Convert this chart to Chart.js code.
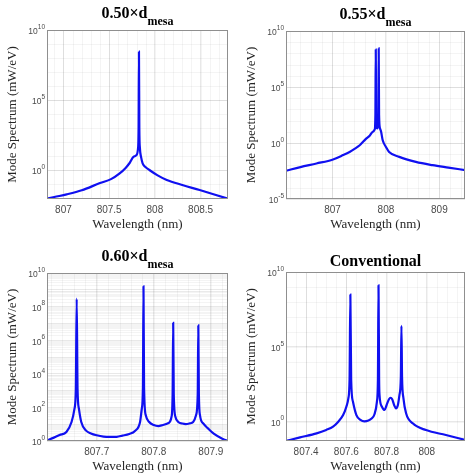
<!DOCTYPE html>
<html>
<head>
<meta charset="utf-8">
<script src="https://cdn.jsdelivr.net/npm/chart.js@4.4.0/dist/chart.umd.min.js"></script>
<style>
  body { margin: 0; background: #fff; }
  #wrap { position: relative; width: 466px; height: 475px; }
  .cell { position: absolute; }
</style>
</head>
<body>
<div id="wrap">
  <div class="cell" style="left:0;top:0"><canvas id="cA" width="233" height="237"></canvas></div>
  <div class="cell" style="left:233px;top:0"><canvas id="cB" width="233" height="237"></canvas></div>
  <div class="cell" style="left:0;top:237px"><canvas id="cC" width="233" height="238"></canvas></div>
  <div class="cell" style="left:233px;top:237px"><canvas id="cD" width="233" height="238"></canvas></div>
</div>
<script>
'use strict';

// Wavelengths (nm) and log10 of the mode spectrum (mW/eV)
var wlA  = [806.82, 806.90, 807.035, 807.20, 807.40, 807.52, 807.615, 807.68, 807.724, 807.768, 807.80,
            807.815, 807.822, 807.826, 807.830, 807.836, 807.85, 807.866, 807.90, 807.94, 808.03, 808.13,
            808.30, 808.49, 808.65, 808.80];
var logA = [-2.05, -1.93, -1.74, -1.45, -0.93, -0.65, -0.24, 0.15, 0.50, 0.95, 1.07,
            1.5, 3.0, 8.45, 3.0, 1.6, 0.9, 0.48, 0.2, 0.0, -0.38, -0.71,
            -1.07, -1.43, -1.75, -2.05];

var wlB  = [806.13, 806.40, 806.70, 807.01, 807.20, 807.32, 807.42, 807.51, 807.63, 807.70, 807.75,
            807.79, 807.803, 807.81, 807.817, 807.837, 807.858, 807.865, 807.872, 807.89, 807.91, 807.94,
            808.00, 808.06, 808.25, 808.56, 808.87, 809.17, 809.48];
var logB = [-2.48, -2.15, -1.83, -1.47, -1.08, -0.80, -0.50, -0.20, 0.39, 0.68, 0.98,
            1.2, 2.5, 8.35, 2.5, 1.3, 2.5, 8.44, 2.5, 1.3, 1.0, 0.24,
            -0.35, -0.80, -1.24, -1.69, -1.98, -2.2, -2.42];

var wlC  = [807.613, 807.625, 807.635, 807.647, 807.656, 807.661, 807.6635, 807.665, 807.6665, 807.669,
            807.673, 807.681, 807.690, 807.700, 807.712, 807.723, 807.735, 807.745, 807.757, 807.767,
            807.776, 807.779, 807.781, 807.782, 807.783, 807.786, 807.792, 807.800, 807.808, 807.816,
            807.826, 807.831, 807.833, 807.834, 807.835, 807.838, 807.843, 807.850, 807.856, 807.863,
            807.869, 807.874, 807.877, 807.878, 807.879, 807.881, 807.887, 807.895, 807.905, 807.920, 807.930];
var logC = [0.04, 0.2, 0.35, 0.54, 1.13, 1.9, 3.1, 8.47, 3.1, 1.9,
            1.13, 0.63, 0.45, 0.34, 0.26, 0.24, 0.25, 0.32, 0.42, 0.6,
            1.13, 1.92, 3.2, 9.21, 3.2, 1.53, 1.13, 0.95, 0.89, 0.95,
            1.07, 1.43, 2.8, 7.04, 2.8, 1.43, 1.13, 1.04, 1.01, 1.05,
            1.13, 1.53, 2.8, 6.88, 2.8, 1.53, 1.03, 0.75, 0.44, 0.14, 0.0];

var wlD  = [807.30, 807.37, 807.452, 807.50, 807.534, 807.56, 807.584, 807.60, 807.61, 807.616, 807.62,
            807.624, 807.633, 807.65, 807.67, 807.69, 807.71, 807.724, 807.74, 807.752, 807.757, 807.76,
            807.763, 807.765, 807.777, 807.79, 807.80, 807.812, 807.82, 807.828, 807.838, 807.847, 807.856,
            807.864, 807.871, 807.874, 807.877, 807.884, 807.897, 807.93, 807.996, 808.095, 808.19];
var logD = [-1.29, -1.05, -0.78, -0.55, -0.33, 0.0, 0.44, 1.0, 1.56, 2.8, 8.49,
            2.8, 1.33, 0.44, 0.12, 0.02, 0.08, 0.2, 0.5, 1.33, 2.8, 9.11,
            2.8, 1.78, 1.0, 0.78, 1.1, 1.5, 1.6, 1.5, 1.1, 0.89, 1.1,
            1.78, 3.0, 6.4, 3.0, 1.56, 0.56, -0.11, -0.56, -0.89, -1.22];

// Tick labels
var xTicksA = [807, 807.5, 808, 808.5];
var xTicksB = [807, 808, 809];
var xTicksC = [807.7, 807.8, 807.9];
var xTicksD = [807.4, 807.6, 807.8, 808];
var yExpA = [0, 5, 10];
var yExpB = [-5, 0, 5, 10];
var yExpC = [0, 2, 4, 6, 8, 10];
var yExpD = [0, 5, 10];

// Titles
var titleMain = ['0.50\u00d7d', '0.55\u00d7d', '0.60\u00d7d', 'Conventional'];
var titleSub = ['mesa', 'mesa', 'mesa', ''];
var xTitle = 'Wavelength (nm)';
var yTitle = 'Mode Spectrum (mW/eV)';

var SERIF = '"Liberation Serif", "Times New Roman", serif';
var SANS = '"Liberation Sans", Arial, sans-serif';

// Minor grid, box, tick labels and titles
var decor = {
    id: 'decor',
    beforeDatasetsDraw: function (chart) {
        var o = chart.options.plugins.decor;
        var ctx = chart.ctx, a = chart.chartArea;
        var xs = chart.scales.x, ys = chart.scales.y;
        ctx.save();
        ctx.strokeStyle = 'rgba(0,0,0,0.045)';
        ctx.lineWidth = 1;
        ctx.beginPath();
        var n = Math.round((xs.max - o.xMinorStart) / o.xMinorStep);
        for (var i = 0; i <= n; i++) {
            var px = Math.round(xs.getPixelForValue(o.xMinorStart + i * o.xMinorStep)) + 0.5;
            if (px > a.left && px < a.right) { ctx.moveTo(px, a.top); ctx.lineTo(px, a.bottom); }
        }
        for (var d = Math.floor(Math.log10(ys.min)); d < 10; d++) {
            var mults = o.ySub ? [2, 3, 4, 5, 6, 7, 8, 9] : [1];
            mults.forEach(function (m) {
                var py = Math.round(ys.getPixelForValue(m * Math.pow(10, d))) + 0.5;
                if (py > a.top && py < a.bottom) { ctx.moveTo(a.left, py); ctx.lineTo(a.right, py); }
            });
        }
        ctx.stroke();
        ctx.restore();
    },
    afterDraw: function (chart) {
        var o = chart.options.plugins.decor;
        var ctx = chart.ctx, a = chart.chartArea;
        var xs = chart.scales.x, ys = chart.scales.y;
        ctx.save();
        // box
        ctx.strokeStyle = '#8f8f8f';
        ctx.lineWidth = 1;
        ctx.strokeRect(a.left + 0.5, a.top + 0.5, a.right - a.left - 1, a.bottom - a.top - 1);

        // x tick labels
        ctx.fillStyle = '#4a4a4a';
        ctx.font = '10px ' + SANS;
        ctx.textAlign = 'center';
        ctx.textBaseline = 'middle';
        o.xTicks.forEach(function (v) {
            ctx.fillText(String(v), xs.getPixelForValue(v), a.bottom + 11);
        });

        // y tick labels 10^n
        ctx.textAlign = 'right';
        o.yExp.forEach(function (e) {
            var py = ys.getPixelForValue(Math.pow(10, e));
            ctx.font = '6.5px ' + SANS;
            var sup = String(e);
            var sw = ctx.measureText(sup).width;
            ctx.fillText(sup, a.left - 2, py - 3);
            ctx.font = '8.5px ' + SANS;
            ctx.fillText('10', a.left - 2 - sw, py + 2);
        });

        // axis titles
        ctx.fillStyle = '#262626';
        ctx.font = '13px ' + SERIF;
        ctx.textAlign = 'center';
        ctx.textBaseline = 'middle';
        ctx.fillText(xTitle, (a.left + a.right) / 2, a.bottom + 26);
        ctx.save();
        ctx.translate(a.left - 34, (a.top + a.bottom) / 2);
        ctx.rotate(-Math.PI / 2);
        ctx.fillText(yTitle, 0, 0);
        ctx.restore();

        // title with subscript
        ctx.fillStyle = '#000';
        ctx.textBaseline = 'alphabetic';
        ctx.textAlign = 'left';
        ctx.font = 'bold 16px ' + SERIF;
        var w1 = ctx.measureText(o.main).width;
        ctx.font = 'bold 12px ' + SERIF;
        var w2 = o.sub ? ctx.measureText(o.sub).width : 0;
        var x0 = (a.left + a.right) / 2 - (w1 + w2) / 2;
        ctx.font = 'bold 16px ' + SERIF;
        ctx.fillText(o.main, x0, a.top - (o.sub ? 12 : 6));
        if (o.sub) {
            ctx.font = 'bold 12px ' + SERIF;
            ctx.fillText(o.sub, x0 + w1, a.top - 5);
        }
        ctx.restore();
    }
};

function makeChart(id, wl, logs, box, xr, xTicks, xMinorStep, xMinorStart, yMinExp, yExp, ySub, idx) {
    var canvas = document.getElementById(id);
    var points = wl.map(function (w, i) { return { x: w, y: Math.pow(10, logs[i]) }; });
    return new Chart(canvas.getContext('2d'), {
        type: 'line',
        data: {
            datasets: [{
                data: points,
                borderColor: '#1010f0',
                borderWidth: 2.2,
                pointRadius: 0,
                cubicInterpolationMode: 'monotone',
                fill: false
            }]
        },
        options: {
            responsive: false,
            animation: false,
            events: [],
            layout: { padding: { left: 0, top: box.top, right: canvas.width - box.right, bottom: 0 } },
            scales: {
                x: {
                    type: 'linear',
                    min: xr[0],
                    max: xr[1],
                    border: { display: false },
                    grid: { color: 'rgba(0,0,0,0.09)', drawTicks: false },
                    ticks: { display: false },
                    afterBuildTicks: function (s) { s.ticks = xTicks.map(function (v) { return { value: v }; }); },
                    afterFit: function (s) { s.height = canvas.height - box.bottom; }
                },
                y: {
                    type: 'logarithmic',
                    min: Math.pow(10, yMinExp),
                    max: 1e10,
                    border: { display: false },
                    grid: { color: 'rgba(0,0,0,0.09)', drawTicks: false },
                    ticks: { display: false },
                    afterBuildTicks: function (s) {
                        var t = [];
                        for (var d = Math.ceil(yMinExp); d <= 10; d++) {
                            if (ySub || yExp.indexOf(d) >= 0) { t.push({ value: Math.pow(10, d) }); }
                        }
                        s.ticks = t;
                    },
                    afterFit: function (s) { s.width = box.left; }
                }
            },
            plugins: {
                legend: { display: false },
                tooltip: { enabled: false },
                decor: {
                    xTicks: xTicks, xMinorStep: xMinorStep, xMinorStart: xMinorStart,
                    yExp: yExp, ySub: ySub, main: titleMain[idx], sub: titleSub[idx]
                }
            }
        },
        plugins: [decor]
    });
}

makeChart('cA', wlA, logA, { left: 47, top: 30, right: 228, bottom: 199 }, [806.82, 808.80],
          xTicksA, 0.1, 806.9, -2.07, yExpA, false, 0);
makeChart('cB', wlB, logB, { left: 53, top: 31, right: 232, bottom: 199 }, [806.13, 809.48],
          xTicksB, 0.2, 806.2, -5, yExpB, false, 1);
makeChart('cC', wlC, logC, { left: 47, top: 36, right: 228, bottom: 204 }, [807.613, 807.930],
          xTicksC, 0.02, 807.62, 0, yExpC, true, 2);
makeChart('cD', wlD, logD, { left: 53, top: 35, right: 232, bottom: 204 }, [807.30, 808.19],
          xTicksD, 0.05, 807.30, -1.29, yExpD, false, 3);
</script>
</body>
</html>
